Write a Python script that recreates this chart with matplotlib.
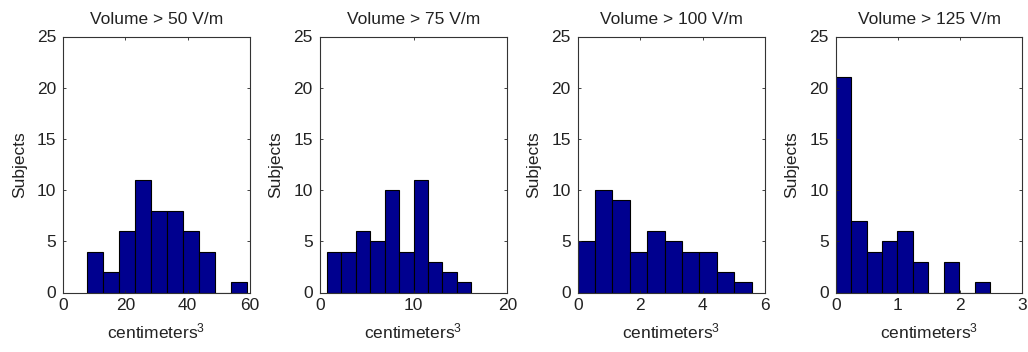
import matplotlib
matplotlib.use("Agg")
import matplotlib.pyplot as plt
import numpy as np

plt.rcParams['font.family'] = ['Liberation Sans', 'DejaVu Sans']
plt.rcParams['mathtext.default'] = 'regular'

titles = ["Volume > 50 V/m", "Volume > 75 V/m", "Volume > 100 V/m", "Volume > 125 V/m"]

# bin ranges (first left edge, last right edge) and counts per panel
bin_lo = [7.8, 0.78, 0.0, 0.0]
bin_hi = [59.1, 16.16, 5.56, 2.48]
counts_50 = [4, 2, 6, 11, 8, 8, 6, 4, 0, 1]
counts_75 = [4, 4, 6, 5, 10, 4, 11, 3, 2, 1]
counts_100 = [5, 10, 9, 4, 6, 5, 4, 4, 2, 1]
counts_125 = [21, 7, 4, 5, 6, 3, 0, 3, 0, 1]
all_counts = [counts_50, counts_75, counts_100, counts_125]

xmax = [60, 20, 6, 3]
xticks = [[0, 20, 40, 60], [0, 10, 20], [0, 2, 4, 6], [0, 1, 2, 3]]
yticks = [0, 5, 10, 15, 20, 25]

fig = plt.figure(figsize=(10.28, 3.52), dpi=100)
W, H = 1028, 352
lefts = [63, 319.7, 577.7, 835.7]
rights = [250, 507.3, 765.3, 1022.3]
top_px, bot_px = 36.5, 292.5

FS = 12.5
for i in range(4):
    ax = fig.add_axes([lefts[i] / W, 1 - bot_px / H, (rights[i] - lefts[i]) / W, (bot_px - top_px) / H])
    c = all_counts[i]
    edges = np.linspace(bin_lo[i], bin_hi[i], len(c) + 1)
    ax.bar(edges[:-1], c, width=np.diff(edges), align='edge',
           color='#00008F', edgecolor='black', linewidth=0.8)
    ax.set_xlim(0, xmax[i])
    ax.set_ylim(0, 25)
    ax.set_xticks(xticks[i])
    ax.set_yticks(yticks)
    ax.tick_params(direction='in', top=True, right=True, length=2.5, labelsize=FS, width=0.6,
                   colors='#222222', labelcolor='#222222')
    ax.tick_params(axis='y', pad=5)
    ax.tick_params(axis='x', pad=4)
    ax.set_title(titles[i], fontsize=FS, pad=9, color='#222222')
    ax.set_xlabel(r'centimeters$^{3}$', fontsize=FS, labelpad=6, color='#222222')
    ax.set_ylabel('Subjects', fontsize=FS, labelpad=7, color='#222222')
    for s in ax.spines.values():
        s.set_linewidth(0.8)
        s.set_color('#333333')

fig.savefig('out.png', dpi=100)
